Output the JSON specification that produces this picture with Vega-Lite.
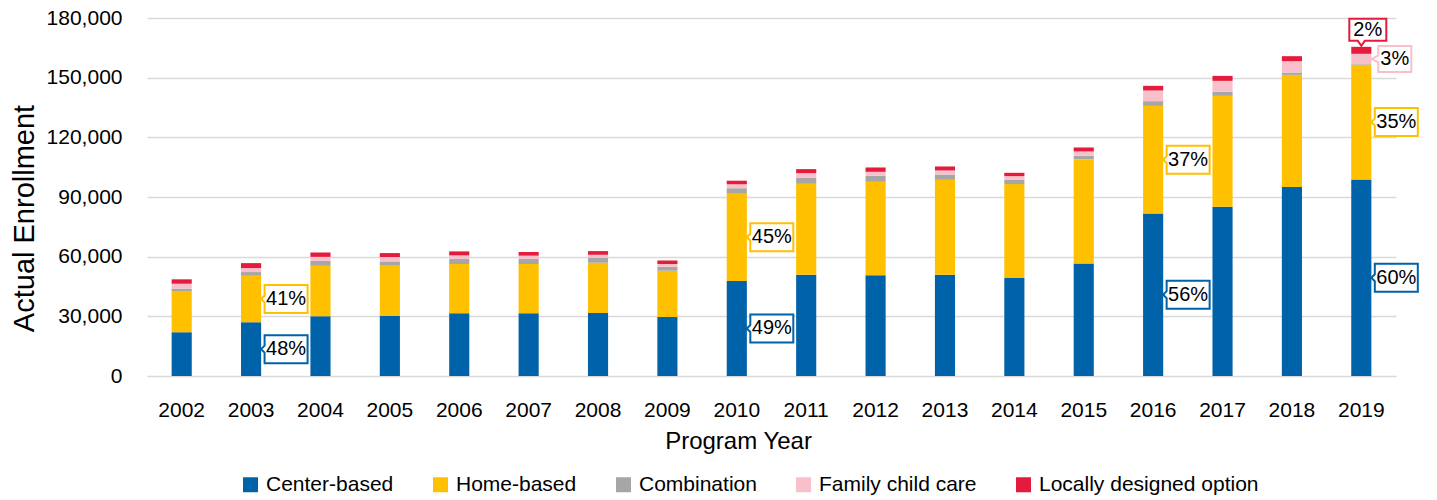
{
  "$schema": "https://vega.github.io/schema/vega-lite/v6.json",
  "width": 1249,
  "height": 358,
  "autosize": {"type": "none"},
  "padding": {"left": 147, "top": 18, "right": 41, "bottom": 124},
  "background": "white",
  "config": {
    "view": {"stroke": null},
    "font": "Liberation Sans",
    "axisY": {
      "labelFontSize": 21, "labelColor": "#000", "labelPadding": 25,
      "ticks": false, "tickSize": 0, "domain": false,
      "gridColor": "#d9d9d9", "gridWidth": 1.5,
      "titleFontSize": 29, "titleFontWeight": "normal", "titleColor": "#000",
      "titleAngle": -90, "titleX": -114, "titleY": 200, "titleAlign": "center", "titleBaseline": "alphabetic"
    }
  },
  "data": {"values": [
    {"year": "2002", "option": "Center-based", "enrollment": 22000},
    {"year": "2002", "option": "Home-based", "enrollment": 20400},
    {"year": "2002", "option": "Combination", "enrollment": 1500},
    {"year": "2002", "option": "Family child care", "enrollment": 2500},
    {"year": "2002", "option": "Locally designed option", "enrollment": 2200},
    {"year": "2003", "option": "Center-based", "enrollment": 27000},
    {"year": "2003", "option": "Home-based", "enrollment": 23400},
    {"year": "2003", "option": "Combination", "enrollment": 1860},
    {"year": "2003", "option": "Family child care", "enrollment": 2000},
    {"year": "2003", "option": "Locally designed option", "enrollment": 2500},
    {"year": "2004", "option": "Center-based", "enrollment": 30000},
    {"year": "2004", "option": "Home-based", "enrollment": 25400},
    {"year": "2004", "option": "Combination", "enrollment": 2500},
    {"year": "2004", "option": "Family child care", "enrollment": 2000},
    {"year": "2004", "option": "Locally designed option", "enrollment": 2200},
    {"year": "2005", "option": "Center-based", "enrollment": 30150},
    {"year": "2005", "option": "Home-based", "enrollment": 25600},
    {"year": "2005", "option": "Combination", "enrollment": 1850},
    {"year": "2005", "option": "Family child care", "enrollment": 2200},
    {"year": "2005", "option": "Locally designed option", "enrollment": 2000},
    {"year": "2006", "option": "Center-based", "enrollment": 31500},
    {"year": "2006", "option": "Home-based", "enrollment": 24800},
    {"year": "2006", "option": "Combination", "enrollment": 2500},
    {"year": "2006", "option": "Family child care", "enrollment": 1850},
    {"year": "2006", "option": "Locally designed option", "enrollment": 2000},
    {"year": "2007", "option": "Center-based", "enrollment": 31500},
    {"year": "2007", "option": "Home-based", "enrollment": 24800},
    {"year": "2007", "option": "Combination", "enrollment": 2500},
    {"year": "2007", "option": "Family child care", "enrollment": 1700},
    {"year": "2007", "option": "Locally designed option", "enrollment": 1850},
    {"year": "2008", "option": "Center-based", "enrollment": 31660},
    {"year": "2008", "option": "Home-based", "enrollment": 25290},
    {"year": "2008", "option": "Combination", "enrollment": 2500},
    {"year": "2008", "option": "Family child care", "enrollment": 1500},
    {"year": "2008", "option": "Locally designed option", "enrollment": 1850},
    {"year": "2009", "option": "Center-based", "enrollment": 29650},
    {"year": "2009", "option": "Home-based", "enrollment": 23270},
    {"year": "2009", "option": "Combination", "enrollment": 2000},
    {"year": "2009", "option": "Family child care", "enrollment": 1350},
    {"year": "2009", "option": "Locally designed option", "enrollment": 1860},
    {"year": "2010", "option": "Center-based", "enrollment": 47800},
    {"year": "2010", "option": "Home-based", "enrollment": 43900},
    {"year": "2010", "option": "Combination", "enrollment": 2700},
    {"year": "2010", "option": "Family child care", "enrollment": 2000},
    {"year": "2010", "option": "Locally designed option", "enrollment": 1800},
    {"year": "2011", "option": "Center-based", "enrollment": 50900},
    {"year": "2011", "option": "Home-based", "enrollment": 45730},
    {"year": "2011", "option": "Combination", "enrollment": 3020},
    {"year": "2011", "option": "Family child care", "enrollment": 2360},
    {"year": "2011", "option": "Locally designed option", "enrollment": 2010},
    {"year": "2012", "option": "Center-based", "enrollment": 50600},
    {"year": "2012", "option": "Home-based", "enrollment": 47040},
    {"year": "2012", "option": "Combination", "enrollment": 3010},
    {"year": "2012", "option": "Family child care", "enrollment": 2010},
    {"year": "2012", "option": "Locally designed option", "enrollment": 2190},
    {"year": "2013", "option": "Center-based", "enrollment": 50900},
    {"year": "2013", "option": "Home-based", "enrollment": 47740},
    {"year": "2013", "option": "Combination", "enrollment": 2680},
    {"year": "2013", "option": "Family child care", "enrollment": 2020},
    {"year": "2013", "option": "Locally designed option", "enrollment": 2010},
    {"year": "2014", "option": "Center-based", "enrollment": 49250},
    {"year": "2014", "option": "Home-based", "enrollment": 47230},
    {"year": "2014", "option": "Combination", "enrollment": 2160},
    {"year": "2014", "option": "Family child care", "enrollment": 1860},
    {"year": "2014", "option": "Locally designed option", "enrollment": 1660},
    {"year": "2015", "option": "Center-based", "enrollment": 56600},
    {"year": "2015", "option": "Home-based", "enrollment": 52300},
    {"year": "2015", "option": "Combination", "enrollment": 1800},
    {"year": "2015", "option": "Family child care", "enrollment": 2200},
    {"year": "2015", "option": "Locally designed option", "enrollment": 2000},
    {"year": "2016", "option": "Center-based", "enrollment": 81750},
    {"year": "2016", "option": "Home-based", "enrollment": 54080},
    {"year": "2016", "option": "Combination", "enrollment": 2360},
    {"year": "2016", "option": "Family child care", "enrollment": 5370},
    {"year": "2016", "option": "Locally designed option", "enrollment": 2320},
    {"year": "2017", "option": "Center-based", "enrollment": 85100},
    {"year": "2017", "option": "Home-based", "enrollment": 55750},
    {"year": "2017", "option": "Combination", "enrollment": 2010},
    {"year": "2017", "option": "Family child care", "enrollment": 5530},
    {"year": "2017", "option": "Locally designed option", "enrollment": 2510},
    {"year": "2018", "option": "Center-based", "enrollment": 94970},
    {"year": "2018", "option": "Home-based", "enrollment": 56430},
    {"year": "2018", "option": "Combination", "enrollment": 1180},
    {"year": "2018", "option": "Family child care", "enrollment": 5710},
    {"year": "2018", "option": "Locally designed option", "enrollment": 2510},
    {"year": "2019", "option": "Center-based", "enrollment": 98800},
    {"year": "2019", "option": "Home-based", "enrollment": 57700},
    {"year": "2019", "option": "Combination", "enrollment": 300},
    {"year": "2019", "option": "Family child care", "enrollment": 5200},
    {"year": "2019", "option": "Locally designed option", "enrollment": 3500}
  ]},
  "transform": [
    {"calculate": "indexof(['Center-based','Home-based','Combination','Family child care','Locally designed option'], datum.option)", "as": "ord"},
    {"joinaggregate": [{"op": "sum", "field": "enrollment", "as": "total"}], "groupby": ["year"]},
    {"stack": "enrollment", "groupby": ["year"], "sort": [{"field": "ord", "order": "ascending"}], "as": ["y0", "y1"]},
    {"calculate": "(datum.y0 + datum.y1) / 2", "as": "mid"},
    {"calculate": "format(datum.enrollment / datum.total, '.0%')", "as": "pct"}
  ],
  "encoding": {
    "x": {
      "field": "year", "type": "ordinal",
      "scale": {"paddingInner": 0.71, "paddingOuter": 0.355},
      "axis": {
        "title": "Program Year", "labelAngle": 0, "labelFontSize": 21, "labelColor": "#000",
        "labelPadding": 23, "ticks": false, "domain": false,
        "titleFontSize": 24, "titleFontWeight": "normal", "titleColor": "#000",
        "titleX": 591, "titleY": 72, "titleBaseline": "alphabetic", "titleAlign": "center"
      }
    }
  },
  "layer": [
    {
      "mark": {"type": "bar"},
      "encoding": {
        "y": {
          "field": "y0", "type": "quantitative",
          "scale": {"domain": [0, 180000], "nice": false},
          "axis": {"title": "Actual Enrollment", "values": [0, 30000, 60000, 90000, 120000, 150000, 180000], "format": ",.0f"}
        },
        "y2": {"field": "y1"},
        "color": {
          "field": "option", "type": "nominal",
          "scale": {
            "domain": ["Center-based", "Home-based", "Combination", "Family child care", "Locally designed option"],
            "range": ["#0062a8", "#ffc000", "#a6a6a6", "#f8c0cb", "#e41b3c"]
          },
          "legend": {
            "orient": "none", "legendX": 93, "legendY": 456, "direction": "horizontal",
            "title": null, "symbolType": "square", "symbolSize": 225, "symbolStrokeWidth": 0,
            "labelFontSize": 21, "labelOffset": 5, "columnPadding": 36, "labelColor": "#000", "labelLimit": 400
          }
        }
      }
    },
    {
      "transform": [{"filter": "datum.ord <= 1 && indexof(['2003','2010','2016','2019'], datum.year) >= 0"}],
      "mark": {"type": "point", "shape": "M1.35,-1.4L5.65,-1.4L5.65,1.4L1.35,1.4L1.35,0.35L1,0L1.35,-0.35Z", "size": 400, "filled": true, "fill": "white", "strokeWidth": 2, "opacity": 1, "fillOpacity": 1},
      "encoding": {
        "y": {"field": "mid", "type": "quantitative", "scale": {"domain": [0, 180000], "nice": false}, "axis": {"title": "Actual Enrollment", "values": [0, 30000, 60000, 90000, 120000, 150000, 180000], "format": ",.0f"}},
        "stroke": {
          "field": "option", "type": "nominal",
          "scale": {
            "domain": ["Center-based", "Home-based", "Combination", "Family child care", "Locally designed option"],
            "range": ["#0062a8", "#ffc000", "#a6a6a6", "#f8c0cb", "#e41b3c"]
          },
          "legend": null
        }
      }
    },
    {
      "transform": [{"filter": "datum.ord <= 1 && indexof(['2003','2010','2016','2019'], datum.year) >= 0"}],
      "mark": {"type": "text", "dx": 35, "align": "center", "baseline": "middle", "fontSize": 20, "fill": "#000"},
      "encoding": {
        "y": {"field": "mid", "type": "quantitative", "scale": {"domain": [0, 180000], "nice": false}, "axis": {"title": "Actual Enrollment", "values": [0, 30000, 60000, 90000, 120000, 150000, 180000], "format": ",.0f"}},
        "text": {"field": "pct"}
      }
    },
    {
      "transform": [{"filter": "datum.year == '2019' && datum.ord == 3"}],
      "mark": {"type": "point", "shape": "M1.7,-1.3L5,-1.3L5,1.3L1.7,1.3L1.7,0.35L1.05,0L1.7,-0.35Z", "size": 400, "filled": true, "fill": "white", "stroke": "#f8c0cb", "strokeWidth": 2, "opacity": 1, "fillOpacity": 1},
      "encoding": {
        "y": {"field": "mid", "type": "quantitative", "scale": {"domain": [0, 180000], "nice": false}, "axis": {"title": "Actual Enrollment", "values": [0, 30000, 60000, 90000, 120000, 150000, 180000], "format": ",.0f"}}
      }
    },
    {
      "transform": [{"filter": "datum.year == '2019' && datum.ord == 3"}],
      "mark": {"type": "text", "dx": 33.5, "align": "center", "baseline": "middle", "fontSize": 20, "fill": "#000"},
      "encoding": {
        "y": {"field": "mid", "type": "quantitative", "scale": {"domain": [0, 180000], "nice": false}, "axis": {"title": "Actual Enrollment", "values": [0, 30000, 60000, 90000, 120000, 150000, 180000], "format": ",.0f"}},
        "text": {"field": "pct"}
      }
    },
    {
      "transform": [{"filter": "datum.year == '2019' && datum.ord == 4"}],
      "mark": {"type": "point", "shape": "M-1.2,-2.8L2.5,-2.8L2.5,-0.6L0.35,-0.6L0,-0.1L-0.35,-0.6L-1.2,-0.6Z", "size": 400, "filled": true, "fill": "white", "stroke": "#e41b3c", "strokeWidth": 2, "opacity": 1, "fillOpacity": 1},
      "encoding": {
        "y": {"field": "y1", "type": "quantitative", "scale": {"domain": [0, 180000], "nice": false}, "axis": {"title": "Actual Enrollment", "values": [0, 30000, 60000, 90000, 120000, 150000, 180000], "format": ",.0f"}}
      }
    },
    {
      "transform": [{"filter": "datum.year == '2019' && datum.ord == 4"}],
      "mark": {"type": "text", "dx": 6.5, "dy": -17, "align": "center", "baseline": "middle", "fontSize": 20, "fill": "#000"},
      "encoding": {
        "y": {"field": "y1", "type": "quantitative", "scale": {"domain": [0, 180000], "nice": false}, "axis": {"title": "Actual Enrollment", "values": [0, 30000, 60000, 90000, 120000, 150000, 180000], "format": ",.0f"}},
        "text": {"field": "pct"}
      }
    }
  ]
}
